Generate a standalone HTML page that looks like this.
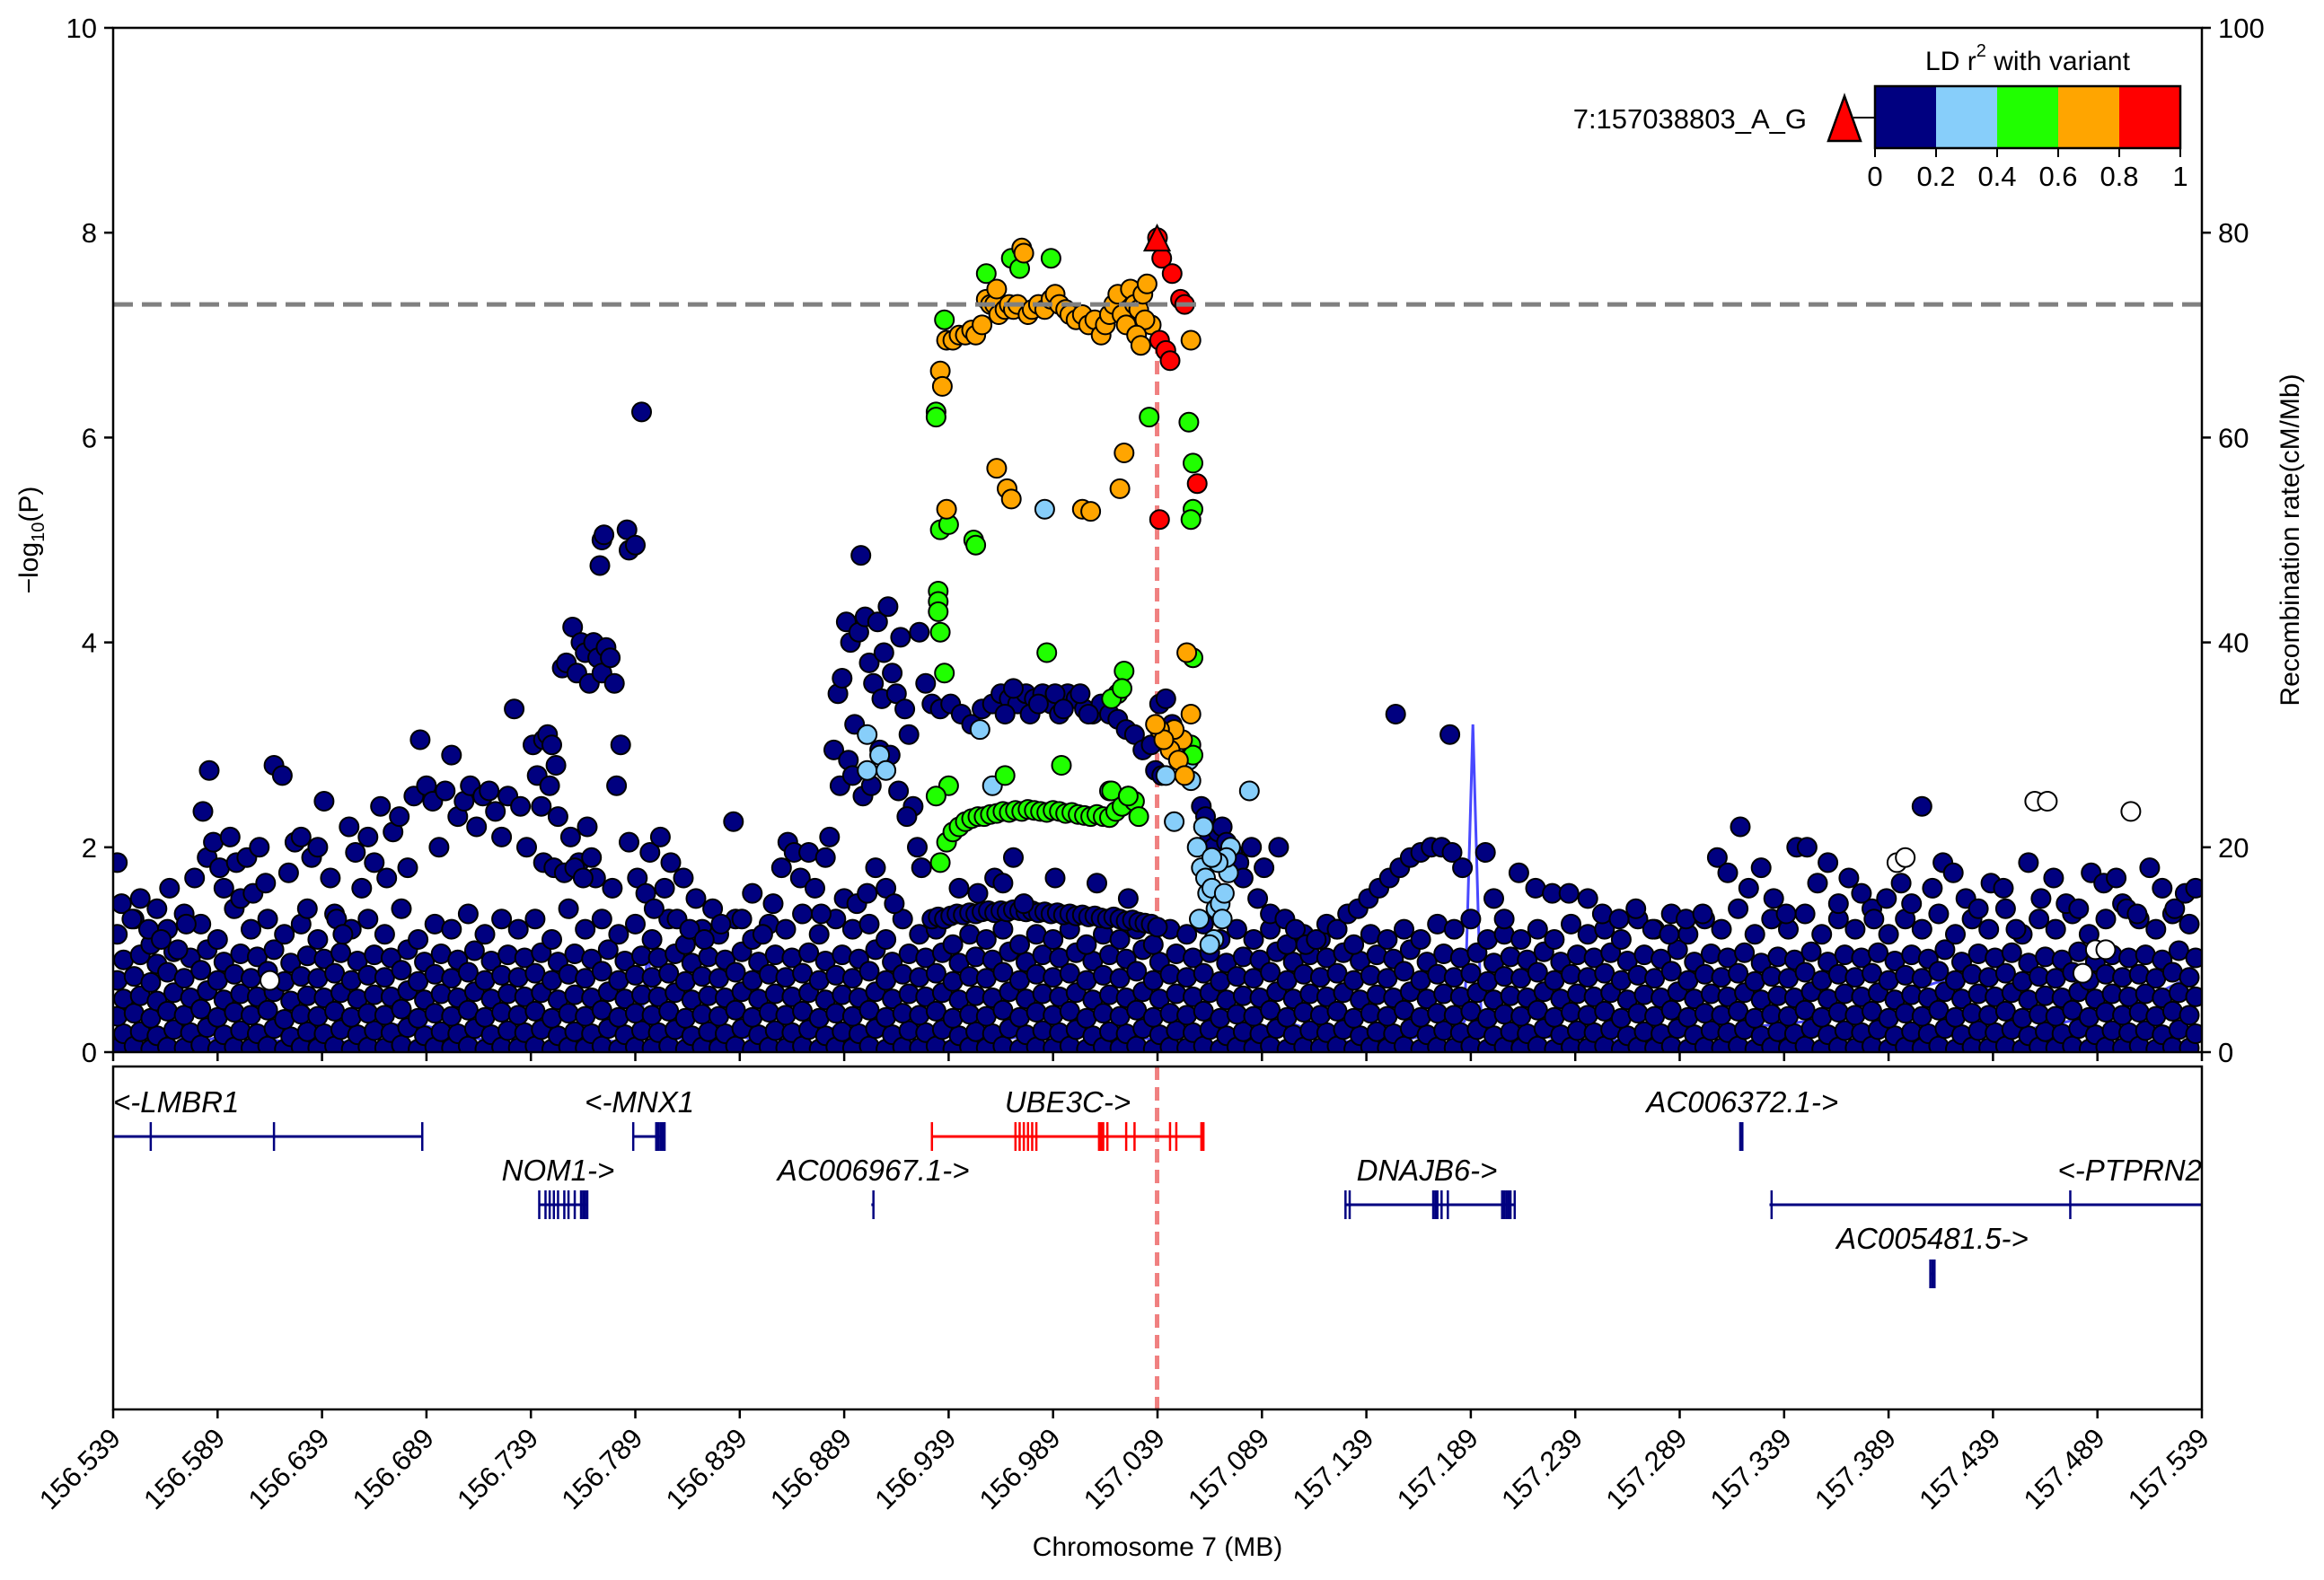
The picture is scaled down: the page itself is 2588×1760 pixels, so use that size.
<!DOCTYPE html>
<html><head><meta charset="utf-8"><title>LocusZoom plot</title>
<style>
html,body{margin:0;padding:0;background:#fff;}
svg{display:block;font-family:"Liberation Sans",Arial,sans-serif;}
</style></head>
<body>
<svg id="chart" width="2588" height="1760" viewBox="0 0 2588 1760" xmlns="http://www.w3.org/2000/svg">
  <rect x="0" y="0" width="2588" height="1760" fill="#fff"/>
  <g id="recomb"></g>
  <g id="points"></g>
  <g id="overlay"></g>
  <g id="genes"></g>
  <g id="axes"></g>
  <g id="legend"></g>
</svg>
<script>
// ---------------- DATA ----------------
const xTickVals = [156.539,156.589,156.639,156.689,156.739,156.789,156.839,156.889,156.939,156.989,157.039,157.089,157.139,157.189,157.239,157.289,157.339,157.389,157.439,157.489,157.539];
const yTickVals = [0,2,4,6,8,10];
const y2TickVals = [0,20,40,60,80,100];
const ldTickLabels = ["0","0.2","0.4","0.6","0.8","1"];
const ldColors = ["#000080","#87CEFA","#20FF00","#FFA500","#FF0000"];
const leadPos = 157.0388;
const leadP = 7.93;
const gwasLine = 7.3;

const bandPos = [156.541,156.549,156.557,156.565,156.573,156.581,156.589,156.597,156.605,156.613,156.621,156.629,156.637,156.645,156.653,156.661,156.669,156.677,156.685,156.693,156.701,156.709,156.717,156.725,156.733,156.741,156.749,156.757,156.765,156.773,156.781,156.789,156.797,156.805,156.813,156.821,156.829,156.837,156.845,156.853,156.861,156.869,156.877,156.885,156.893,156.901,156.909,156.917,156.925,156.933,156.941,156.949,156.957,156.965,156.973,156.981,156.989,156.997,157.005,157.013,157.021,157.029,157.037,157.045,157.053,157.061,157.069,157.077,157.085,157.093,157.101,157.109,157.117,157.125,157.133,157.141,157.149,157.157,157.165,157.173,157.181,157.189,157.197,157.205,157.213,157.221,157.229,157.237,157.245,157.253,157.261,157.269,157.277,157.285,157.293,157.301,157.309,157.317,157.325,157.333,157.341,157.349,157.357,157.365,157.373,157.381,157.389,157.397,157.405,157.413,157.421,157.429,157.437,157.445,157.453,157.461,157.469,157.477,157.485,157.493,157.501,157.509,157.517,157.525,157.533];
const bandVals = [
[.04,.18,.35,.52,.7,.9,1.15],[.06,.2,.38,.55,.74,.95,1.3],[.03,.16,.33,.5,.68,.86,1.05],[.05,.22,.4,.58,.78,.98,1.2],
[.04,.19,.36,.53,.72,.92,1.35],[.07,.24,.42,.6,.8,1.0,1.25],[.03,.17,.34,.51,.7,.88,1.1],[.05,.21,.39,.57,.76,.96,1.4],
[.04,.18,.36,.54,.72,.93,1.2],[.06,.23,.41,.59,.79,1.0,1.3],[.03,.15,.32,.5,.69,.87,1.15],[.05,.2,.37,.55,.74,.94,1.25],
[.04,.18,.35,.53,.72,.91,1.1],[.06,.22,.4,.58,.77,.97,1.35],[.03,.17,.34,.52,.7,.89,1.2],[.05,.21,.38,.56,.75,.95,1.3],
[.04,.19,.36,.54,.73,.92,1.15],[.07,.24,.42,.6,.8,1.0,1.4],[.03,.16,.33,.51,.69,.88,1.1],[.05,.2,.38,.57,.76,.96,1.25],
[.04,.18,.35,.53,.72,.9,1.2],[.06,.23,.41,.59,.78,.99,1.35],[.03,.17,.34,.52,.7,.89,1.15],[.05,.21,.39,.57,.75,.95,1.3],
[.04,.19,.36,.54,.73,.92,1.2],[.06,.22,.4,.58,.77,.97,1.3],[.03,.16,.33,.51,.7,.88,1.1],[.05,.2,.38,.56,.76,.96,1.4],
[.04,.18,.35,.53,.72,.91,1.2],[.06,.23,.41,.59,.79,1.0,1.3],[.03,.17,.34,.52,.7,.89,1.15],[.05,.21,.38,.56,.75,.94,1.25],
[.04,.19,.36,.54,.73,.92,1.1],[.06,.22,.4,.58,.77,.96,1.3],[.03,.16,.33,.51,.69,.87,1.05],[.05,.2,.37,.55,.74,.93,1.2],
[.04,.18,.35,.53,.72,.9,1.15],[.06,.23,.41,.59,.78,.98,1.3],[.03,.17,.34,.52,.7,.88,1.1],[.05,.21,.39,.57,.76,.95,1.25],
[.04,.19,.36,.54,.73,.92,1.2],[.06,.22,.4,.58,.77,.97,1.35],[.03,.16,.33,.51,.7,.89,1.15],[.05,.2,.38,.56,.75,.95,1.3],
[.04,.18,.35,.53,.72,.91,1.2],[.06,.23,.41,.59,.79,1.0,1.25],[.03,.17,.34,.52,.7,.88,1.1],[.05,.21,.38,.57,.76,.96,1.3],
[.04,.19,.36,.54,.73,.92,1.15],[.06,.22,.4,.58,.77,.97,1.2],[.03,.16,.33,.51,.69,.87,1.05],[.05,.2,.37,.55,.74,.93,1.15],
[.04,.18,.35,.53,.72,.9,1.1],[.06,.23,.41,.59,.78,.98,1.2],[.03,.17,.34,.52,.7,.88,1.05],[.05,.21,.39,.57,.76,.95,1.15],
[.04,.19,.36,.54,.73,.92,1.1],[.06,.22,.4,.58,.77,.97,1.2],[.03,.16,.33,.51,.7,.89,1.05],[.05,.2,.38,.56,.75,.95,1.15],
[.04,.18,.35,.53,.72,.91,1.1],[.06,.23,.41,.59,.79,1.0,1.2],[.03,.17,.34,.52,.7,.88,1.05],[.05,.21,.38,.57,.76,.96,1.2],
[.04,.19,.36,.54,.73,.92,1.15],[.06,.22,.4,.58,.77,.97,1.25],[.03,.16,.33,.51,.69,.87,1.1],[.05,.2,.37,.55,.74,.93,1.2],
[.04,.18,.35,.53,.72,.9,1.1],[.06,.23,.41,.59,.78,.98,1.2],[.03,.17,.34,.52,.7,.88,1.05],[.05,.21,.39,.57,.76,.95,1.15],
[.04,.19,.36,.54,.73,.92,1.1],[.06,.22,.4,.58,.77,.97,1.2],[.03,.16,.33,.51,.7,.89,1.05],[.05,.2,.38,.56,.75,.95,1.15],
[.04,.18,.35,.53,.72,.91,1.1],[.06,.23,.41,.59,.79,1.0,1.2],[.03,.17,.34,.52,.7,.88,1.1],[.05,.21,.38,.57,.76,.96,1.25],
[.04,.19,.36,.54,.73,.92,1.2],[.06,.22,.4,.58,.77,.97,1.3],[.03,.16,.33,.51,.69,.87,1.1],[.05,.2,.37,.55,.74,.93,1.15],
[.04,.18,.35,.53,.72,.9,1.1],[.06,.23,.41,.59,.78,.98,1.2],[.03,.17,.34,.52,.7,.88,1.1],[.05,.21,.39,.57,.76,.95,1.25],
[.04,.19,.36,.54,.73,.92,1.15],[.06,.22,.4,.58,.77,.97,1.2],[.03,.16,.33,.51,.7,.89,1.1],[.05,.2,.38,.56,.75,.95,1.3],
[.04,.18,.35,.53,.72,.91,1.2],[.06,.23,.41,.59,.79,1.0,1.35],[.03,.17,.34,.52,.7,.88,1.15],[.05,.21,.38,.57,.76,.96,1.3],
[.04,.19,.36,.54,.73,.92,1.2],[.06,.22,.4,.58,.77,.97,1.4],[.03,.16,.33,.51,.69,.87,1.15],[.05,.2,.37,.55,.74,.93,1.3],
[.04,.18,.35,.53,.72,.9,1.2],[.06,.23,.41,.59,.78,.98,1.35],[.03,.17,.34,.52,.7,.88,1.15],[.05,.21,.39,.57,.76,.95,1.3],
[.04,.19,.36,.54,.73,.92,1.2],[.06,.22,.4,.58,.77,.97,1.4],[.03,.16,.33,.51,.7,.89,1.15],[.05,.2,.38,.56,.75,.95,1.3],
[.04,.18,.35,.53,.72,.91,1.2],[.06,.23,.41,.59,.79,1.0,1.35],[.03,.17,.34,.52,.7,.88,1.15],[.05,.21,.38,.57,.76,.96,1.3],
[.04,.19,.36,.54,.73,.92,1.2],[.06,.22,.4,.58,.77,.97,1.4],[.03,.16,.33,.51,.69,.87,1.15],[.05,.2,.37,.55,.74,.93,1.3],
[.04,.18,.35,.53,.72,.9,1.2],[.06,.23,.41,.59,.78,.98,1.35],[.03,.17,.34,.52,.7,.88,1.15],[.05,.21,.39,.57,.76,.95,1.3],
[.04,.19,.36,.54,.73,.92,1.45],[.06,.21,.39,.57,.76,.95,1.3],[.03,.17,.35,.53,.72,.9,1.2],[.05,.22,.4,.58,.78,.99,1.35],
[.04,.18,.36,.54,.73,.92,1.25],[.06,.23,.41,.6,.8,1.0,1.4],[.03,.16,.33,.52,.71,.9,1.2],[.05,.2,.38,.56,.75,.96,1.35],
[.04,.19,.37,.55,.74,.93,1.3],[.06,.22,.4,.58,.77,.97,1.4]
];

const navyPos = [156.541,156.543,156.548,156.552,156.556,156.560,156.562,156.566,156.570,156.574,156.578,156.582,156.585,156.584,156.587,156.590,156.592,156.595,156.598,156.600,156.603,156.606,156.609,156.612,156.616,156.620,156.623,156.626,156.629,156.632,156.634,156.637,156.640,156.643,156.646,156.649,156.652,156.655,156.658,156.661,156.664,156.667,156.670,156.673,156.676,156.680,156.683,156.686,156.689,156.692,156.695,156.698,156.701,156.704,156.707,156.710,156.713,156.716,156.719,156.722,156.725,156.728,156.731,156.734,156.737,
156.740,156.742,156.745,156.747,156.749,156.751,156.744,156.748,156.752,156.754,156.756,156.759,156.761,156.763,156.765,156.767,156.769,156.771,156.773,156.775,156.777,156.779,156.758,156.762,156.766,156.768,156.770,156.772,156.773,156.774,156.785,156.786,156.789,156.792,156.780,156.782,156.778,156.786,156.790,156.794,156.796,156.798,156.801,156.803,156.806,156.809,156.812,156.815,156.818,156.822,156.826,156.830,156.836,156.840,156.845,156.850,156.855,156.859,156.862,156.865,156.868,156.872,156.875,156.878,156.745,156.750,156.755,156.760,156.764,
156.880,156.882,156.884,156.886,156.887,156.888,156.890,156.892,156.894,156.896,156.897,156.899,156.901,156.903,156.905,156.907,156.908,156.910,156.912,156.914,156.916,156.918,156.920,156.922,156.924,156.926,156.891,156.893,156.898,156.902,156.906,156.911,156.915,156.919,156.889,156.895,156.900,156.904,156.909,156.913,
156.925,156.928,156.931,156.935,156.940,156.945,156.950,156.955,156.960,156.964,156.968,156.972,156.976,156.980,156.984,156.988,156.992,156.996,157.000,157.004,157.008,157.012,157.016,157.020,157.024,157.028,157.032,157.036,157.040,157.043,157.046,156.966,156.978,156.990,157.002,156.970,156.982,156.994,157.006,
156.931,156.934,156.937,156.940,156.943,156.946,156.949,156.952,156.955,156.958,156.961,156.964,156.967,156.970,156.973,156.976,156.979,156.982,156.985,156.988,156.991,156.994,156.997,157.000,157.003,157.006,157.009,157.012,157.015,157.018,157.021,157.024,157.027,157.030,157.033,157.036,157.039,
157.038,157.041,156.961,156.965,156.970,156.975,156.944,156.953,156.990,157.010,157.025,
157.060,157.062,157.064,157.066,157.068,157.070,157.072,157.075,157.078,157.080,157.084,157.087,157.090,157.093,
157.097,157.100,157.105,157.110,157.115,157.120,157.125,157.130,157.135,157.140,157.145,157.150,157.155,157.160,157.165,157.170,157.175,157.180,157.185,157.153,157.179,157.196,157.200,157.205,157.212,157.220,157.228,157.236,157.245,157.252,157.260,157.268,157.276,157.284,157.292,157.300,157.307,157.312,157.318,157.322,157.328,157.334,157.340,157.345,157.350,157.355,157.360,157.365,157.370,157.376,157.382,157.388,157.395,157.400,157.405,157.410,157.415,157.420,157.426,157.432,157.438,157.444,157.450,157.456,157.462,157.468,157.474,157.480,157.486,157.492,157.498,157.503,157.508,157.514,157.520,157.526,157.531,157.536];
const navyP = [1.85,1.45,1.3,1.5,1.2,1.4,1.1,1.6,1.0,1.25,1.7,2.35,2.75,1.9,2.05,1.8,1.6,2.1,1.85,1.5,1.9,1.55,2.0,1.65,2.8,2.7,1.75,2.05,2.1,1.4,1.9,2.0,2.45,1.7,1.3,1.15,2.2,1.95,1.6,2.1,1.85,2.4,1.7,2.15,2.3,1.8,2.5,3.05,2.6,2.45,2.0,2.55,2.9,2.3,2.45,2.6,2.2,2.5,2.55,2.35,2.1,2.5,3.35,2.4,2.0,
3.0,2.7,3.05,3.1,3.0,2.8,2.4,2.6,2.3,3.75,3.8,4.15,3.7,4.0,3.9,3.6,4.0,3.85,3.7,3.95,3.85,3.6,2.1,1.85,2.2,1.9,1.7,4.75,5.0,5.05,5.1,4.9,4.95,6.25,2.6,3.0,1.6,2.05,1.7,1.55,1.95,1.4,2.1,1.6,1.85,1.3,1.7,1.2,1.5,1.1,1.4,1.25,2.25,1.3,1.55,1.15,1.45,1.8,2.05,1.95,1.7,1.95,1.6,1.35,1.85,1.8,1.75,1.8,1.7,
1.9,2.1,2.95,3.5,2.6,3.65,4.2,4.0,3.2,4.1,4.85,4.25,3.8,3.6,4.2,3.45,3.9,4.35,3.7,3.5,4.05,3.35,3.1,2.4,2.0,1.8,2.85,2.7,2.5,2.6,2.95,2.9,2.55,2.3,1.5,1.45,1.55,1.8,1.6,1.45,
4.1,3.6,3.4,3.35,3.4,3.3,3.2,3.35,3.4,3.5,3.45,3.4,3.5,3.45,3.5,3.4,3.3,3.5,3.45,3.35,3.3,3.4,3.3,3.25,3.15,3.1,2.95,3.0,3.4,3.45,3.2,3.3,3.3,3.5,3.5,3.55,3.4,3.35,3.3,
1.3,1.32,1.3,1.33,1.35,1.34,1.36,1.35,1.37,1.38,1.36,1.38,1.37,1.39,1.38,1.37,1.38,1.36,1.37,1.35,1.36,1.34,1.35,1.33,1.34,1.32,1.33,1.31,1.3,1.32,1.3,1.28,1.29,1.27,1.26,1.25,1.22,
2.75,2.7,1.7,1.65,1.9,1.45,1.6,1.55,1.7,1.65,1.5,
2.4,2.3,2.1,2.0,2.15,2.2,2.05,1.95,1.85,1.7,2.0,1.5,1.8,1.35,
2.0,1.3,1.2,1.05,1.1,1.25,1.2,1.35,1.4,1.5,1.6,1.7,1.8,1.9,1.95,2.0,2.0,1.95,1.8,3.3,3.1,1.95,1.5,1.3,1.75,1.6,1.55,1.55,1.5,1.35,1.3,1.4,1.2,1.15,1.3,1.35,1.9,1.75,2.2,1.6,1.8,1.5,1.35,2.0,2.0,1.65,1.85,1.45,1.7,1.55,1.3,1.5,1.65,1.45,2.4,1.6,1.85,1.75,1.5,1.4,1.65,1.6,1.2,1.85,1.5,1.7,1.45,1.4,1.75,1.65,1.7,1.4,1.35,1.8,1.6,1.4,1.55,1.6];

const whitePos = [157.393,157.397,157.459,157.465,157.505,157.488,157.493,157.482,156.614];
const whiteP = [1.85,1.9,2.45,2.45,2.35,1.0,1.0,0.77,0.7];

const lbluePos = [156.900,156.900,156.906,156.909,156.954,156.960,156.985,157.016,157.043,157.047,157.054,157.055,157.058,157.060,157.062,157.063,157.065,157.067,157.069,157.070,157.066,157.064,157.071,157.073,157.074,157.072,157.068,157.059,157.083,157.061,157.065];
const lblueP = [3.1,2.75,2.9,2.75,3.15,2.6,5.3,2.55,2.7,2.25,2.85,2.65,2.0,1.8,1.7,1.55,1.6,1.4,1.45,1.3,1.1,1.05,1.55,1.75,2.0,1.9,1.85,1.3,2.55,2.2,1.9];

const greenPos = [156.935,156.938,156.941,156.944,156.947,156.950,156.953,156.956,156.959,156.962,156.965,156.968,156.971,156.974,156.977,156.980,156.983,156.986,156.989,156.992,156.995,156.998,157.001,157.004,157.007,157.010,157.013,157.016,157.019,157.022,157.025,157.028,
156.939,156.933,156.966,156.993,157.017,157.025,157.030,156.937,156.986,157.023,157.020,157.017,157.022,156.934,156.934,156.934,156.935,156.935,156.939,156.951,156.952,156.933,156.933,157.035,156.937,156.957,156.969,156.973,156.988,157.054,157.056,157.056,157.055,157.056,157.055,157.056];
const greenP = [1.85,2.05,2.15,2.2,2.25,2.28,2.3,2.3,2.32,2.33,2.35,2.34,2.36,2.35,2.37,2.36,2.35,2.34,2.36,2.35,2.33,2.34,2.32,2.31,2.3,2.32,2.3,2.29,2.35,2.4,2.5,2.45,
2.6,2.5,2.7,2.8,2.55,2.5,2.3,3.7,3.9,3.72,3.5,3.45,3.55,4.5,4.4,4.3,4.1,5.1,5.15,5.0,4.95,6.25,6.2,6.2,7.15,7.6,7.75,7.65,7.75,6.15,5.75,5.3,5.2,3.85,3.0,2.9];

const orangePos = [156.935,156.936,156.938,156.941,156.944,156.947,156.950,156.952,156.955,156.957,156.959,156.961,156.963,156.966,156.968,156.970,156.972,156.974,156.975,156.977,156.979,156.982,156.985,156.988,156.990,156.992,156.995,156.997,157.000,157.003,157.006,157.009,157.012,157.014,157.016,157.018,157.020,157.022,157.024,157.026,157.028,157.030,157.032,157.034,157.036,157.033,156.962,157.029,157.031,
156.938,156.962,156.967,156.969,157.003,157.007,157.023,157.021,157.055,157.053,157.055,157.051,157.047,157.045,157.049,157.052,157.040,157.042,157.038];
const orangeP = [6.65,6.5,6.95,6.95,7.0,7.0,7.05,7.0,7.1,7.35,7.3,7.3,7.2,7.25,7.3,7.25,7.3,7.85,7.8,7.2,7.25,7.3,7.25,7.35,7.4,7.3,7.25,7.2,7.15,7.2,7.1,7.15,7.0,7.1,7.2,7.3,7.4,7.2,7.1,7.45,7.3,7.25,7.4,7.5,7.1,7.15,7.45,7.0,6.9,
5.3,5.7,5.5,5.4,5.3,5.28,5.85,5.5,6.95,3.9,3.3,3.05,3.15,2.95,2.85,2.7,3.15,3.05,3.2];

const redPos = [157.039,157.041,157.046,157.050,157.052,157.040,157.043,157.045,157.040,157.058];
const redP = [7.95,7.75,7.6,7.35,7.3,6.95,6.85,6.75,5.2,5.55];

const recombPos = [156.539,156.56,156.58,156.60,156.62,156.65,156.68,156.70,156.72,156.75,156.78,156.792,156.795,156.798,156.80,156.83,156.85,156.88,156.90,156.92,156.95,157.0,157.05,157.08,157.1,157.13,157.15,157.18,157.186,157.19,157.194,157.20,157.25,157.30,157.35,157.40,157.43,157.45,157.50,157.53,157.539];
const recombRate = [1,2,1,2,1,1,3,2,1,2,1,3,10,3,1,2,1,2,4,1,1,2,1,2,3,1,1,2,3,32,3,2,1,2,3,6,8,2,4,7,10];

const geneNames = ["<-LMBR1","<-MNX1","UBE3C->","AC006372.1->","NOM1->","AC006967.1->","DNAJB6->","<-PTPRN2","AC005481.5->"];
const geneStart = [156.539,156.788,156.931,157.318,156.743,156.902,157.129,157.332,157.409];
const geneEnd   = [156.687,156.803,157.061,157.319,156.766,156.903,157.210,157.539,157.411];
const geneRow   = [0,0,0,0,1,1,1,1,2];
const geneRed   = [0,0,1,0,0,0,0,0,0];
const geneExons = [
 [156.557,156.616,156.687],
 [156.788,156.799,156.800,156.801,156.802,156.803],
 [156.931,156.971,156.973,156.975,156.977,156.979,156.981,157.011,157.012,157.013,157.015,157.024,157.028,157.045,157.048,157.060,157.061],
 [157.318,157.319],
 [156.743,156.746,156.748,156.750,156.752,156.755,156.757,156.760,156.763,156.764,156.765,156.766],
 [156.903],
 [157.129,157.131,157.171,157.172,157.173,157.175,157.178,157.204,157.205,157.206,157.207,157.208,157.210],
 [157.333,157.476],
 [157.409,157.410,157.411]
];
const geneLabelPos = [156.539,156.791,156.996,157.319,156.752,156.903,157.168,157.539,157.410];
const geneLabelAnchor = ["start","middle","middle","middle","middle","middle","middle","end","middle"];

// ---------------- LAYOUT ----------------
const NS = "http://www.w3.org/2000/svg";
const PL = 126, PR = 2452, PT = 31, PB = 1172;
const GT = 1188, GB = 1570;
const XMIN = 156.539, XMAX = 157.539;
function xs(v){ return PL + (v - XMIN) / (XMAX - XMIN) * (PR - PL); }
function ys(v){ return PB - v / 10 * (PB - PT); }
function y2s(v){ return PB - v / 100 * (PB - PT); }
function mk(tag, attrs, parent){ const e = document.createElementNS(NS, tag); for (const k in attrs) e.setAttribute(k, attrs[k]); parent.appendChild(e); return e; }

const axes = document.getElementById('axes');
const pts = document.getElementById('points');
const ov = document.getElementById('overlay');
const rec = document.getElementById('recomb');
const genes = document.getElementById('genes');
const leg = document.getElementById('legend');

let d = "";
recombPos.forEach((p,i)=>{ d += (i?"L":"M") + xs(p).toFixed(1) + "," + y2s(recombRate[i]).toFixed(1); });
const rl = mk('path', {d:d, fill:'none', stroke:'#4848ff', 'stroke-width':3}, rec);



const vl = mk('line', {x1:xs(leadPos), x2:xs(leadPos), y1:ys(6.95), y2:PB, stroke:'#f08080', 'stroke-width':5, 'stroke-dasharray':'15 8'}, rec);



function dot(p, v, fill, name){
  if (p === undefined || v === undefined) return;
  const c = mk('circle', {cx:xs(p).toFixed(1), cy:ys(v).toFixed(1), r:10.5, fill:fill, stroke:'#000', 'stroke-width':2}, pts);
  
  
}
bandPos.forEach((p,i)=>{
  (bandVals[i] || []).forEach((v,j)=>{ dot(p + (j%2 ? 0.003 : 0), v, '#000080', 'snp-point-low'); });
});
navyPos.forEach((p,i)=> dot(p, navyP[i], '#000080', 'snp-point-ld0'));
whitePos.forEach((p,i)=> dot(p, whiteP[i], '#ffffff', 'snp-point-no-ld'));
lbluePos.forEach((p,i)=> dot(p, lblueP[i], '#87CEFA', 'snp-point-ld02'));
greenPos.forEach((p,i)=> dot(p, greenP[i], '#20FF00', 'snp-point-ld04'));
orangePos.forEach((p,i)=> dot(p, orangeP[i], '#FFA500', 'snp-point-ld06'));
redPos.forEach((p,i)=> dot(p, redP[i], '#FF0000', 'snp-point-ld08'));

const lx = xs(leadPos), ly = ys(leadP);
const tri = mk('polygon', {points:`${lx},${ly-16} ${lx-14},${ly+12} ${lx+14},${ly+12}`, fill:'#FF0000', stroke:'#000', 'stroke-width':2}, pts);



const gl = mk('line', {x1:PL, x2:PR, y1:ys(gwasLine), y2:ys(gwasLine), stroke:'#808080', 'stroke-width':5, 'stroke-dasharray':'22 10'}, ov);



mk('rect',{x:0,y:0,width:PL-1,height:1760,fill:'#fff'},ov);
mk('rect',{x:PR+1,y:0,width:2588-PR,height:1760,fill:'#fff'},ov);
mk('rect',{x:0,y:0,width:2588,height:PT-1,fill:'#fff'},ov);
mk('rect',{x:0,y:PB+1,width:2588,height:GT-PB-1,fill:'#fff'},ov);

const f1 = mk('rect',{x:PL,y:PT,width:PR-PL,height:PB-PT,fill:'none',stroke:'#000','stroke-width':2.5},axes);


const f2 = mk('rect',{x:PL,y:GT,width:PR-PL,height:GB-GT,fill:'none',stroke:'#000','stroke-width':2.5},axes);



const vl2 = mk('line', {x1:xs(leadPos), x2:xs(leadPos), y1:GT, y2:GB, stroke:'#f08080', 'stroke-width':5, 'stroke-dasharray':'15 8'}, genes);



const rowLineY = [1266, 1342, 1419];
const rowLabelY = [1239, 1315, 1391];
geneNames.forEach((n,i)=>{
  const col = geneRed[i] ? '#FF0000' : '#000080';
  const y = rowLineY[geneRow[i]];
  const g = mk('g', {}, genes);
  
  
  mk('line',{x1:xs(geneStart[i]),x2:xs(geneEnd[i]),y1:y,y2:y,stroke:col,'stroke-width':3},g);
  geneExons[i].forEach(e=>{ mk('line',{x1:xs(e),x2:xs(e),y1:y-16,y2:y+16,stroke:col,'stroke-width':2.5},g); });
  const t = mk('text',{x:xs(geneLabelPos[i]),y:rowLabelY[geneRow[i]],'font-size':33,'font-style':'italic','text-anchor':geneLabelAnchor[i],fill:'#000'},g);
  t.textContent = n;
});

xTickVals.forEach(v=>{
  const x = xs(v);
  mk('line',{x1:x,x2:x,y1:PB,y2:PB+10,stroke:'#000','stroke-width':2.5},axes);
  mk('line',{x1:x,x2:x,y1:GB,y2:GB+10,stroke:'#000','stroke-width':2.5},axes);
  const t = mk('text',{x:x+10,y:GB+34,'font-size':31,'text-anchor':'end',transform:`rotate(-45 ${x+10} ${GB+34})`},axes);
  
  
  t.textContent = v.toFixed(3);
});
const xt = mk('text',{x:(PL+PR)/2,y:1733,'font-size':30,'text-anchor':'middle'},axes);


xt.textContent = 'Chromosome 7 (MB)';

yTickVals.forEach(v=>{
  const y = ys(v);
  mk('line',{x1:PL-10,x2:PL,y1:y,y2:y,stroke:'#000','stroke-width':2.5},axes);
  const t = mk('text',{x:PL-18,y:y+11,'font-size':31,'text-anchor':'end'},axes);
  
  
  t.textContent = String(v);
});
y2TickVals.forEach(v=>{
  const y = y2s(v);
  mk('line',{x1:PR,x2:PR+10,y1:y,y2:y,stroke:'#000','stroke-width':2.5},axes);
  const t = mk('text',{x:PR+18,y:y+11,'font-size':31,'text-anchor':'start'},axes);
  
  
  t.textContent = String(v);
});
const yt = mk('text',{x:0,y:0,'font-size':30,'text-anchor':'middle',transform:`translate(42 ${(PT+PB)/2}) rotate(-90)`},axes);


yt.innerHTML = '−log<tspan font-size="20" dy="7">10</tspan><tspan dy="-7">(P)</tspan>';
const y2t = mk('text',{x:0,y:0,'font-size':30,'text-anchor':'middle',transform:`translate(2560 ${(PT+PB)/2}) rotate(-90)`},axes);


y2t.textContent = 'Recombination rate(cM/Mb)';

const LX0 = 2088, LX1 = 2428, LY0 = 96, LY1 = 165;
const lw = (LX1-LX0)/ldColors.length;
ldColors.forEach((c,i)=>{
  const r = mk('rect',{x:LX0+i*lw,y:LY0,width:lw+0.5,height:LY1-LY0,fill:c},leg);
  
  
});
mk('rect',{x:LX0,y:LY0,width:LX1-LX0,height:LY1-LY0,fill:'none',stroke:'#000','stroke-width':2.5},leg);
ldTickLabels.forEach((s,i)=>{
  const x = LX0 + i*lw;
  mk('line',{x1:x,x2:x,y1:LY1,y2:LY1+10,stroke:'#000','stroke-width':2},leg);
  const t = mk('text',{x:x,y:LY1+42,'font-size':31,'text-anchor':'middle'},leg);
  
  
  t.textContent = s;
});
const lt = mk('text',{x:(LX0+LX1)/2,y:78,'font-size':30,'text-anchor':'middle'},leg);


lt.innerHTML = 'LD r<tspan font-size="20" dy="-15">2</tspan><tspan dy="15"> with variant</tspan>';
mk('line',{x1:2064,x2:LX0,y1:131,y2:131,stroke:'#000','stroke-width':2},leg);
const ltri = mk('polygon',{points:'2054,107 2036,157 2072,157',fill:'#FF0000',stroke:'#000','stroke-width':2.5},leg);


const ll = mk('text',{x:2012,y:143,'font-size':31,'text-anchor':'end'},leg);


ll.textContent = '7:157038803_A_G';
</script>
</body></html>
